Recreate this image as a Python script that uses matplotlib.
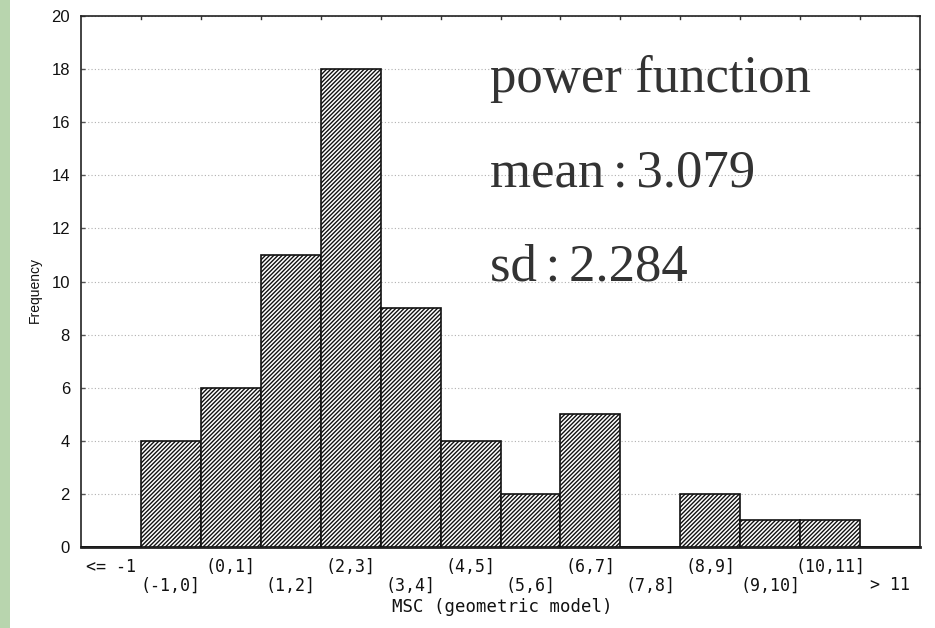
import matplotlib
matplotlib.use("Agg")
import matplotlib.pyplot as plt
import numpy as np
from matplotlib.patches import Rectangle

categories = ["<= -1", "(-1,0]", "(0,1]", "(1,2]", "(2,3]", "(3,4]", "(4,5]",
              "(5,6]", "(6,7]", "(7,8]", "(8,9]", "(9,10]", "(10,11]", "> 11"]
frequency = [0, 4, 6, 11, 18, 9, 4, 2, 5, 0, 2, 1, 1, 0]
y_ticks = list(range(0, 21, 2))
annot_lines = ["power function", "mean\u2006:\u20063.079", "sd\u2006:\u20062.284"]
annot_y = [17.14, 13.56, 10.02]

plt.rcParams['hatch.linewidth'] = 1.0
plt.rcParams['hatch.color'] = '#222222'

fig = plt.figure(figsize=(9.35, 6.28), dpi=100)
fig.patch.set_facecolor('white')
# decorative green strip at left edge
fig.add_artist(Rectangle((0, 0), 10/935, 1, transform=fig.transFigure,
                         facecolor='#b8d5ae', edgecolor='none'))

ax = fig.add_axes([81/935, 81/628, 839/935, 531/628])
x = np.arange(len(categories))
ax.bar(x, frequency, width=1.0, facecolor='white', edgecolor='#111111',
       linewidth=1.2, hatch='////////', zorder=3)

ax.set_xlim(-0.5, len(categories) - 0.5)
ax.set_ylim(0, 20)
ax.set_yticks(y_ticks)
ax.set_yticklabels([str(t) for t in y_ticks], family='Liberation Sans',
                   fontsize=12, color='#111111')
ax.yaxis.grid(True, linestyle=(0, (1, 2)), color='#b0b0b0', linewidth=0.8, zorder=0)
ax.set_axisbelow(True)
ax.tick_params(axis='y', direction='in', length=3, width=1, left=True, right=True,
               pad=8, colors='#555555', labelcolor='#111111')

ax.set_xticks(x)
ax.set_xticklabels([])
ax.tick_params(axis='x', bottom=False, top=False)
for i, lab in enumerate(categories):
    yoff = -0.75 if i % 2 == 0 else -1.45
    ax.text(i, yoff, lab, ha='center', va='center', family='DejaVu Sans Mono',
            fontsize=12, color='#111111', clip_on=False)

# top boundary ticks
for b in np.arange(0.5, len(categories) - 1, 1):
    ax.plot([b, b], [20, 19.88], color='#333333', lw=1, clip_on=False, zorder=4)

for s in ['left', 'right', 'top']:
    ax.spines[s].set_linewidth(1.2)
    ax.spines[s].set_color('#222222')
ax.spines['bottom'].set_linewidth(2)
ax.spines['bottom'].set_color('#222222')

fig.text(35/935, 1 - 290/628, "Frequency", rotation=90, ha='center', va='center',
         family='Liberation Sans', fontsize=10, color='#111111')
fig.text(502/935, 1 - 607/628, "MSC (geometric model)", ha='center', va='center',
         family='DejaVu Sans Mono', fontsize=12.5, color='#111111')

for txt, yy in zip(annot_lines, annot_y):
    ax.text(0.4875, yy, txt, transform=ax.get_yaxis_transform(), ha='left',
            va='baseline', family=['Liberation Serif', 'DejaVu Serif'],
            fontsize=38, color='#333333', zorder=5)

fig.savefig("out.png", dpi=100, facecolor='white')
